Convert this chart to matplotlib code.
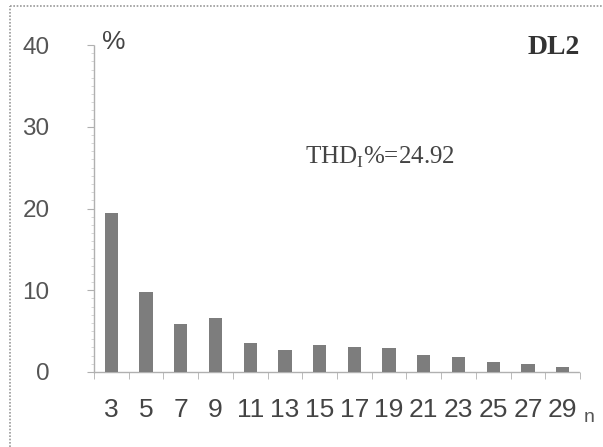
import numpy as np
import matplotlib
matplotlib.use("Agg")
import matplotlib.pyplot as plt
from matplotlib.lines import Line2D

# harmonic orders and their amplitude (% of fundamental)
harmonics = [3, 5, 7, 9, 11, 13, 15, 17, 19, 21, 23, 25, 27, 29]
values = [19.5, 9.8, 5.9, 6.6, 3.6, 2.65, 3.35, 3.1, 2.9, 2.05, 1.85, 1.2, 1.0, 0.65]
yticks = [0, 10, 20, 30, 40]
thd_label = "THD$_\\mathregular{I}$%=24.92"
panel = "DL2"

fig = plt.figure(figsize=(6.03, 4.47), dpi=100)
ax = fig.add_axes([94/603, 1-372/447, (580-94)/603, (372-45)/447])

pos = np.arange(len(harmonics))
ax.bar(pos, values, width=0.38, color="#7d7d7d", zorder=3)

ax.set_xlim(-0.5, len(harmonics) - 0.5)
ax.set_ylim(0, 40)

for s in ["top", "right"]:
    ax.spines[s].set_visible(False)
for s in ["left", "bottom"]:
    ax.spines[s].set_color("#b0b0b0")
    ax.spines[s].set_linestyle((0, (1, 1)))
    ax.spines[s].set_linewidth(1.0)

ax.set_yticks(yticks)
ax.set_yticklabels([str(t) for t in yticks], fontsize=17.5, color="#555555",
                   family="Liberation Sans")
ax.set_yticks(np.arange(0, 40.1, 1), minor=True)
ax.tick_params(axis="y", which="major", length=5, color="#b0b0b0", pad=27)
ax.tick_params(axis="y", which="minor", length=2, color="#d0d0d0")

ax.set_xticks(pos)
ax.set_xticklabels([str(h) for h in harmonics], fontsize=19, color="#444444",
                   family="Liberation Sans")
ax.set_xticks(np.arange(-0.5, len(harmonics), 1), minor=True)
ax.tick_params(axis="x", which="major", length=0, pad=19)
ax.tick_params(axis="x", which="minor", length=5, color="#b0b0b0")

fig.text(102/603, 1-42/447, "%", fontsize=19, color="#444444",
         family="Liberation Sans", va="center", ha="left")
fig.text(580/603, 1-48/447, panel, fontsize=20, fontweight="bold",
         color="#333333", family="Liberation Serif", va="center", ha="right")
fig.text(305/603, 1-157/447, thd_label, fontsize=18, color="#444444",
         family="Liberation Serif", va="center", ha="left")
fig.text(584/603, 1-417/447, "n", fontsize=14, color="#555555",
         family="Liberation Sans", va="center", ha="left")

# scanned page frame
fig.add_artist(Line2D([10/603, 10/603], [0, 1-6/447], transform=fig.transFigure,
                      color="#999999", lw=1.2, ls=(0, (1, 1))))
fig.add_artist(Line2D([10/603, 1], [1-6/447, 1-6/447], transform=fig.transFigure,
                      color="#999999", lw=1.2, ls=(0, (1, 1))))

fig.savefig("out.png", dpi=100)
